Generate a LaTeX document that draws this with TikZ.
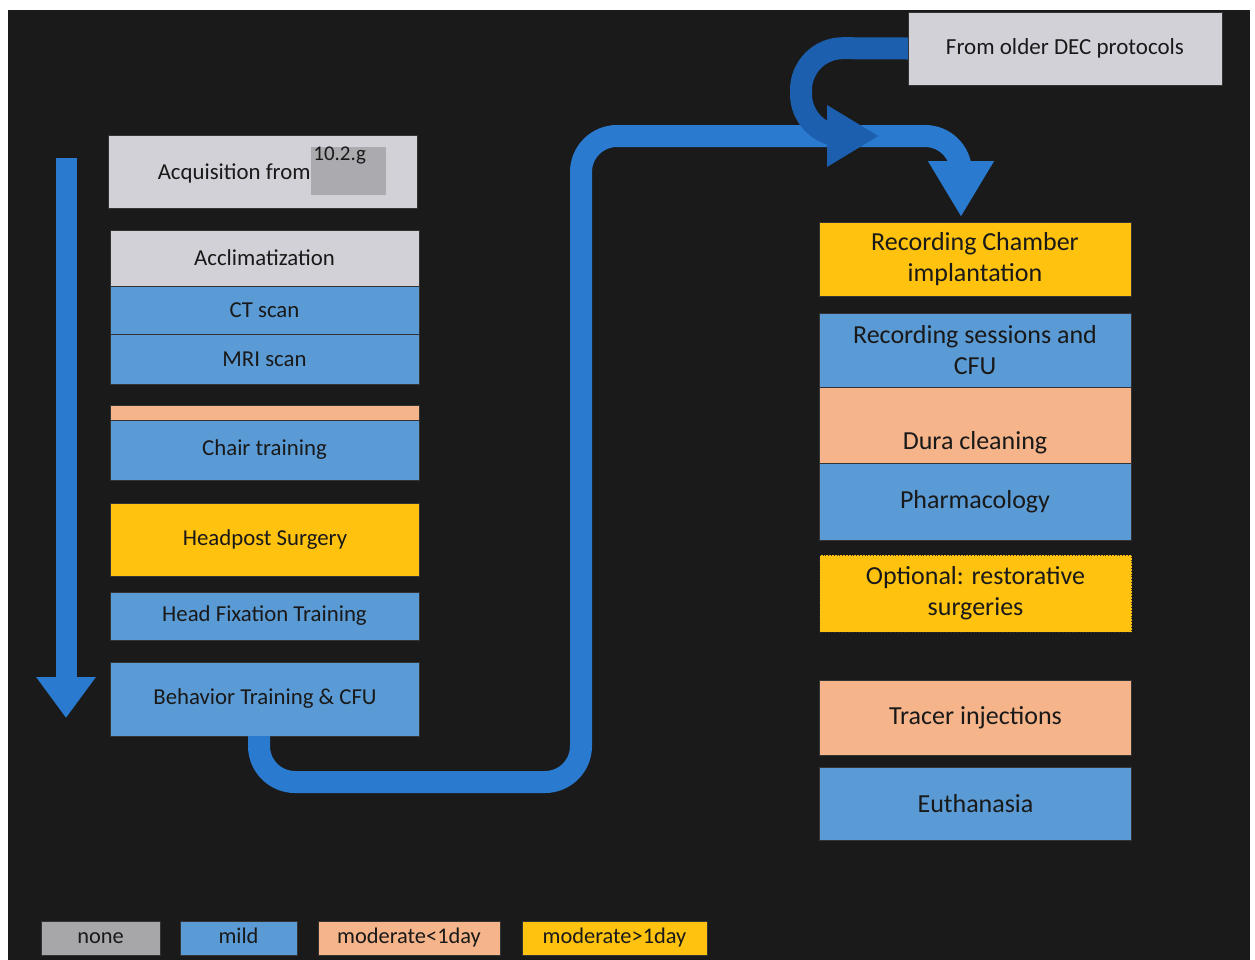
\documentclass[tikz,border=0pt]{standalone}
\usepackage{fontspec}
\setmainfont{Carlito}
\usepackage{xcolor}
\usetikzlibrary{arrows.meta,positioning}
\definecolor{bgdark}{HTML}{1A1A1A}
\definecolor{nonegray}{HTML}{D2D1D8}
\definecolor{keygray}{HTML}{A7A7AA}
\definecolor{taggray}{HTML}{AAAAAF}
\definecolor{mildblue}{HTML}{5B9BD5}
\definecolor{modsalmon}{HTML}{F5B48A}
\definecolor{modamber}{HTML}{FFC20E}
\definecolor{flowblue}{HTML}{2A7AD0}
\definecolor{oldblue}{HTML}{1C5FAF}

\begin{document}
\begin{tikzpicture}[
        x=0.5pt, y=-0.5pt,
        node distance=0pt,
        box/.style={draw=black!80, line width=0.4pt, outer sep=0pt, inner sep=1pt, align=center, text=black!90},
        lbox/.style={box, minimum width=154.5pt, font=\fontsize{11.4}{13.7}\selectfont},
        rbox/.style={box, minimum width=156pt, font=\fontsize{13}{15.6}\selectfont},
        key/.style={box, minimum height=17pt, text height=1.55ex, text depth=0.3ex, font=\fontsize{11.2}{13}\selectfont},
        lbl/.style={inner sep=0pt, text=black!90},
        flow/.style={line width=11pt, draw=flowblue, -{Triangle[length=28pt,width=31pt]}},
        oldflow/.style={line width=11pt, draw=oldblue, -{Triangle[length=26pt,width=29pt]}}
    ]
        \fill[white] (0,0) rectangle (1255,960);
        \fill[bgdark] (8,10) rectangle (1250,960);

        \node[lbox, fill=nonegray, minimum height=36.5pt] (acq) at (262.5,171.5) {};
        \node[box, draw=none, fill=taggray, minimum width=37.5pt, minimum height=24pt] (acqtag) at (348.5,171) {};
        \node[lbl, anchor=east, font=\fontsize{11.4}{13.7}\selectfont] (acqtxt) at (311,173) {Acquisition from};
        \node[lbl, anchor=north west, font=\fontsize{10.5}{12}\selectfont] (acqref) at (313,146) {10.2.g};

        \node[lbox, fill=nonegray, minimum height=28pt] (accl) at (264.5,258) {Acclimatization};
        \node[lbox, fill=mildblue, minimum height=24pt, below=of accl] (ct) {CT scan};
        \node[lbox, fill=mildblue, minimum height=25pt, below=of ct] (mri) {MRI scan};
        \node[lbox, fill=modsalmon, minimum height=7.5pt, inner sep=0pt] (strip) at (264.5,412.5) {};
        \node[lbox, fill=mildblue, minimum height=30pt, below=of strip] (chair) {Chair training};
        \node[lbox, fill=modamber, minimum height=36.5pt] (headpost) at (265,539.5) {Headpost Surgery};
        \node[lbox, fill=mildblue, minimum height=24pt] (headfix) at (264.5,616) {Head Fixation Training};
        \node[lbox, fill=mildblue, minimum height=37pt] (behav) at (265,699) {Behavior Training \& CFU};

        \node[rbox, fill=nonegray, minimum width=157pt, minimum height=36.5pt, font=\fontsize{11.5}{14}\selectfont] (olddec) at (1065,48.5) {From older DEC protocols};

        \node[rbox, fill=modamber, minimum height=37pt] (chamber) at (975,259) {Recording Chamber\\implantation};
        \node[rbox, fill=mildblue, minimum height=37pt] (sessions) at (975,350) {Recording sessions and\\CFU};
        \node[rbox, fill=modsalmon, minimum height=38pt, below=of sessions] (dura) {\strut\\Dura cleaning};
        \node[rbox, fill=mildblue, minimum height=38.5pt, below=of dura] (pharma) {Pharmacology};
        \node[rbox, fill=modamber, minimum height=38.5pt, densely dotted] (restore) at (975.5,593.5) {Optional: restorative\\surgeries};
        \node[rbox, fill=modsalmon, minimum height=37.5pt] (tracer) at (975.5,717.5) {Tracer injections};
        \node[rbox, fill=mildblue, minimum height=36.5pt] (euth) at (975.5,803.5) {Euthanasia};

        \node[key, fill=keygray, minimum width=59.5pt] (knone) at (100.5,938) {none};
        \node[key, fill=mildblue, minimum width=58.5pt] (kmild) at (238.5,938) {mild};
        \node[key, fill=modsalmon, minimum width=91pt] (kmodlow) at (409,938) {moderate<1day};
        \node[key, fill=modamber, minimum width=92.5pt] (kmodhigh) at (614.5,938) {moderate>1day};

        \coordinate (flowtop) at (66,158);
        \coordinate (flowend) at (66,718);
        \draw[flow, line width=10.5pt, -{Triangle[length=20.5pt,width=28.5pt]}] (flowtop) -- (flowend);

        \draw[flow] ([xshift=-3pt]behav.south) [rounded corners=18pt] |- (581,782) -- (581,136) -- (961,136) [rounded corners=11pt] -- ([xshift=-7pt,yshift=2.5pt]chamber.north);
        \draw[oldflow] (olddec.west) [rounded corners=21pt] -- (801,48) -- (801,136) [rounded corners=10pt] -- (879,136);
    \end{tikzpicture}
\end{document}
